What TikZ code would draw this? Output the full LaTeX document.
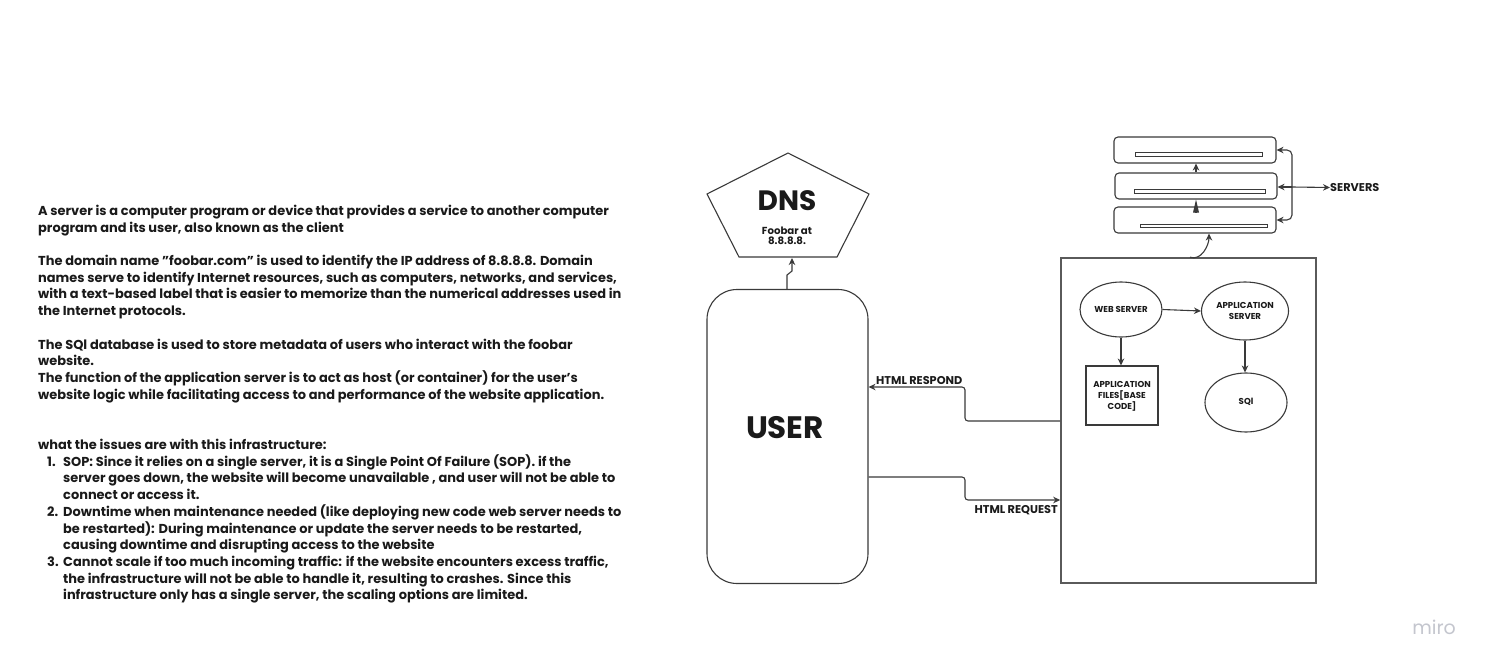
\documentclass[tikz,border=0pt]{standalone}
\usepackage{fontspec}
\setmainfont{Poppins}
\usetikzlibrary{shapes.geometric,arrows.meta}
\definecolor{ink}{HTML}{1A1A1A}
\definecolor{ln}{HTML}{3A3A3A}
\definecolor{boxln}{HTML}{5A5A5A}
\definecolor{mirogray}{HTML}{C4C6CE}
\newcommand{\itm}[1]{\hspace*{9pt}\makebox[16pt][l]{#1}}
\newcommand{\cnt}{\hspace*{25pt}}
\tikzset{
  arr/.style={draw=ln, line width=1.1pt, -{Stealth[length=7pt,width=6.5pt]}},
  plain/.style={draw=ln, line width=1.1pt},
  ellbox/.style={ellipse, draw=ln, line width=1.1pt, inner sep=0pt},
  srvbox/.style={rectangle, rounded corners=4pt, draw=ln, line width=1.1pt, minimum width=162pt, minimum height=26pt, inner sep=0pt},
  barbox/.style={rectangle, draw=ln, line width=0.9pt, minimum height=3.5pt, inner sep=0pt},
  smalltxt/.style={font=\fontsize{8.6}{11}\selectfont\bfseries, text=ink, align=center, inner sep=0pt},
  lbltxt/.style={font=\fontsize{11.3}{12}\selectfont\bfseries, text=ink, inner sep=0pt},
}
\begin{document}
\begin{tikzpicture}[x=1pt,y=-1pt]
\useasboundingbox (0,0) rectangle (1492,669);
\fill[white] (0,0) rectangle (1492,669);

% left description text
\node[anchor=north west, inner sep=0pt, align=left, text=ink,
      font=\fontsize{12.95}{16.72}\selectfont\bfseries] (desc) at (38,204.8) {%
A server is a computer program or device that provides a service to another computer\\
program and its user, also known as the client\\[16.72pt]
The domain name \char34 foobar.com\char34{} is used to identify the IP address of 8.8.8.8. Domain\\
names serve to identify Internet resources, such as computers, networks, and services,\\
with a text-based label that is easier to memorize than the numerical addresses used in\\
the Internet protocols.\\[16.72pt]
The SQl database is used to store metadata of users who interact with the foobar\\
website.\\
The function of the application server is to act as host (or container) for the user\char39 s\\
website logic while facilitating access to and performance of the website application.\\[33.44pt]
what the issues are with this infrastructure:\\
\itm{1.}SOP: Since it relies on a single server, it is a Single Point Of Failure (SOP). if the\\
\cnt server goes down, the website will become unavailable , and user will not be able to\\
\cnt connect or access it.\\
\itm{2.}Downtime when maintenance needed (like deploying new code web server needs to\\
\cnt be restarted): During maintenance or update the server needs to be restarted,\\
\cnt causing downtime and disrupting access to the website\\
\itm{3.}Cannot scale if too much incoming traffic: if the website encounters excess traffic,\\
\cnt the infrastructure will not be able to handle it, resulting to crashes. Since this\\
\cnt infrastructure only has a single server, the scaling options are limited.};

% DNS pentagon
\draw[plain] (788,153) -- (869,194) -- (837,257) -- (739,257) -- (707,194) -- cycle;
\coordinate (dnsin) at (792,258);
\node[font=\fontsize{28}{30}\selectfont\bfseries, text=ink, inner sep=0pt] (dnstitle) at (787,201) {DNS};
\node[font=\fontsize{10.2}{10.5}\selectfont\bfseries, text=ink, align=center, inner sep=0pt] (dnssub) at (787,236) {Foobar at\\8.8.8.8.};

% USER
\node[rectangle, rounded corners=30pt, draw=ln, line width=1.1pt, minimum width=161pt, minimum height=294pt, inner sep=0pt] (user) at (787.5,436.5) {};
\node[font=\fontsize{31}{32}\selectfont\bfseries, text=ink, inner sep=0pt] (usertxt) at (785,428) {USER};
\coordinate (ubend) at (787,275);
\draw[arr] (user.north -| ubend) -- (ubend) -- (792,271) -- (dnsin);

% server stack
\node[srvbox] (s1) at (1195,150) {};
\node[srvbox] (s2) at (1196,186) {};
\node[srvbox] (s3) at (1195,220) {};
\node[barbox, minimum width=127pt] (b1) at (1198.5,154.5) {};
\node[barbox, minimum width=131pt] (b2) at (1199.5,191.5) {};
\node[barbox, minimum width=127pt] (b3) at (1203.5,226) {};
\coordinate (ax) at (1196,0);
\draw[arr] (s2.north -| ax) -- (s1.south -| ax);
\draw[draw=ln, line width=1.1pt, -{Kite[length=13pt,width=6pt,inset=0pt]}] (s3.north -| ax) ++(0,6) -- (s2.south -| ax);

\coordinate (hub) at (1292,187);
\node[lbltxt, anchor=west] (servlbl) at (1330,187.5) {SERVERS};
\draw[arr] (hub) -- (servlbl.west);
\draw[arr] (hub) -- (s2.east |- hub);
\draw[arr, rounded corners=5pt] (hub) |- (s1.east);
\draw[arr, rounded corners=5pt] (hub) |- (s3.east);

% main server box
\node[rectangle, draw=boxln, line width=1.6pt, minimum width=255pt, minimum height=325pt, inner sep=0pt] (srv) at (1188.5,420.5) {};
\coordinate (cv) at (1190,0);
\coordinate (cv2) at (1209,0);
\draw[arr] (srv.north -| cv) to[out=-20,in=-90] (s3.south -| cv2);

\node[ellbox, minimum width=82pt, minimum height=55pt] (web) at (1121,309.5) {};
\node[smalltxt] (webtxt) at (1121,309) {WEB SERVER};
\node[ellbox, minimum width=87pt, minimum height=58pt] (app) at (1245,311) {};
\node[smalltxt] (apptxt) at (1245,310.5) {APPLICATION\\SERVER};
\node[ellbox, minimum width=82pt, minimum height=59pt] (sql) at (1246,402.5) {};
\node[smalltxt] (sqltxt) at (1246,402) {SQl};
\node[rectangle, draw=ln, line width=1.1pt, minimum width=72pt, minimum height=59pt, inner sep=0pt] (files) at (1122,395.5) {};
\node[smalltxt] (filestxt) at (1122,396) {APPLICATION\\FILES[BASE\\CODE]};

\draw[arr] (web.east) -- (app.west);
\draw[arr] (web.south) -- (web.south |- files.north);
\draw[arr] (app.south) -- (app.south |- sql.north);

% HTML respond / request
\coordinate (rsp) at (965,421);
\coordinate (rsp2) at (965,387);
\draw[arr, rounded corners=3pt] (srv.west |- rsp) -- (rsp) -- (rsp2) -- (user.east |- rsp2);
\node[lbltxt, anchor=west] (rsplbl) at (876,381) {HTML RESPOND};

\coordinate (rq) at (965,477);
\coordinate (rq2) at (965,500);
\draw[arr, rounded corners=3pt] (user.east |- rq) -- (rq) -- (rq2) -- (srv.west |- rq2);
\node[lbltxt, anchor=east] (rqlbl) at (1058,510) {HTML REQUEST};

% watermark
\node[font=\fontsize{19}{20}\selectfont, text=mirogray, inner sep=0pt] (miro) at (1434,627) {miro};
\end{tikzpicture}
\end{document}
